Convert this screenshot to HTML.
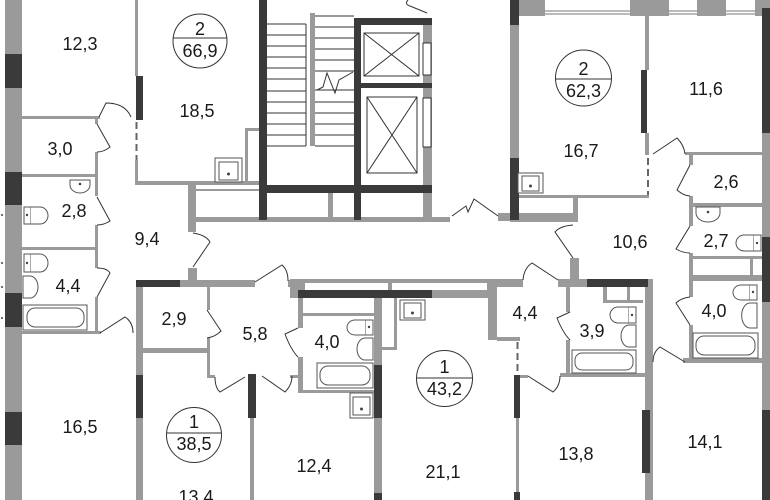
<!DOCTYPE html>
<html><head><meta charset="utf-8"><style>
html,body{margin:0;padding:0;background:#fff;}
svg{display:block;}
text{font-family:"Liberation Sans",Arial,sans-serif;fill:#1a1a1a;font-size:18px;text-anchor:middle;}
</style></head><body>
<svg width="770" height="500" viewBox="0 0 770 500" xmlns="http://www.w3.org/2000/svg">
<rect width="770" height="500" fill="#fff"/>
<g fill="#9a9a9a">
<rect x="5" y="0" width="17" height="500"/>
<rect x="135" y="0" width="3" height="76"/>
<rect x="135" y="160" width="3" height="25"/>
<rect x="135" y="181" width="127" height="4"/>
<rect x="245" y="128" width="3" height="55"/>
<rect x="245" y="128" width="15" height="3"/>
<rect x="22" y="116" width="78" height="3"/>
<rect x="95" y="117" width="3" height="7"/>
<rect x="95" y="152" width="3" height="44"/>
<rect x="95" y="225" width="3" height="43"/>
<rect x="95" y="297" width="3" height="37"/>
<rect x="22" y="174" width="76" height="3"/>
<rect x="22" y="247" width="76" height="3"/>
<rect x="22" y="331" width="79" height="3"/>
<rect x="188" y="182" width="8" height="50"/>
<rect x="188" y="268" width="9" height="19"/>
<rect x="196" y="189" width="64" height="2"/>
<rect x="188" y="217" width="262" height="5"/>
<rect x="328" y="193" width="5" height="25"/>
<rect x="498" y="213" width="12" height="8"/>
<rect x="510" y="25" width="9" height="133"/>
<rect x="510" y="213" width="68" height="9"/>
<rect x="517" y="195" width="132" height="3"/>
<rect x="573" y="195" width="5" height="27"/>
<rect x="570" y="258" width="9" height="29"/>
<rect x="180" y="280" width="75" height="7"/>
<rect x="288" y="280" width="12" height="7"/>
<rect x="290" y="279" width="200" height="19"/>
<rect x="298" y="298" width="5" height="30"/>
<rect x="298" y="357" width="5" height="36"/>
<rect x="303" y="313" width="71" height="3"/>
<rect x="298" y="390" width="76" height="3"/>
<rect x="374" y="298" width="8" height="202"/>
<rect x="394" y="298" width="3" height="52"/>
<rect x="382" y="347" width="15" height="3"/>
<rect x="136" y="287" width="7" height="213"/>
<rect x="143" y="348" width="67" height="5"/>
<rect x="207" y="287" width="3" height="23"/>
<rect x="207" y="338" width="3" height="40"/>
<rect x="207" y="375" width="8" height="3"/>
<rect x="290" y="375" width="10" height="3"/>
<rect x="250" y="418" width="4" height="82"/>
<rect x="487" y="279" width="36" height="8"/>
<rect x="558" y="279" width="29" height="8"/>
<rect x="488" y="287" width="9" height="53"/>
<rect x="497" y="337" width="23" height="4"/>
<rect x="516" y="418" width="3" height="74"/>
<rect x="514" y="375" width="14" height="3"/>
<rect x="566" y="287" width="4" height="25"/>
<rect x="566" y="340" width="4" height="37"/>
<rect x="560" y="373" width="85" height="4"/>
<rect x="603" y="287" width="4" height="16"/>
<rect x="627" y="287" width="3" height="16"/>
<rect x="603" y="300" width="40" height="3"/>
<rect x="645" y="279" width="8" height="221"/>
<rect x="645" y="15" width="4" height="55"/>
<rect x="645" y="133" width="4" height="22"/>
<rect x="685" y="152" width="77" height="3"/>
<rect x="689" y="155" width="4" height="10"/>
<rect x="689" y="196" width="4" height="11"/>
<rect x="689" y="203" width="73" height="4"/>
<rect x="689" y="207" width="4" height="19"/>
<rect x="689" y="253" width="4" height="6"/>
<rect x="689" y="256" width="73" height="3"/>
<rect x="689" y="275" width="73" height="6"/>
<rect x="750" y="259" width="3" height="16"/>
<rect x="689" y="259" width="4" height="16"/>
<rect x="689" y="281" width="4" height="16"/>
<rect x="689" y="325" width="4" height="35"/>
<rect x="683" y="358" width="79" height="5"/>
<rect x="762" y="0" width="8" height="500"/>
<rect x="517" y="0" width="245" height="16"/>
<rect x="423" y="18" width="9" height="202"/>
<rect x="310" y="13" width="5" height="133"/>
</g>
<g fill="#fff">
<rect x="305" y="283" width="83" height="7"/>
<rect x="392" y="283" width="95" height="7"/>
<rect x="545" y="0" width="85" height="16"/>
<rect x="669" y="0" width="28" height="16"/>
<rect x="726" y="0" width="29" height="16"/>
</g>
<g stroke="#777" stroke-width="1">
<line x1="545" y1="11" x2="630" y2="11"/><line x1="545" y1="14" x2="630" y2="14"/>
<line x1="669" y1="11" x2="697" y2="11"/><line x1="669" y1="14" x2="697" y2="14"/>
<line x1="726" y1="11" x2="755" y2="11"/><line x1="726" y1="14" x2="755" y2="14"/>
</g>
<g fill="#3a3a3a">
<rect x="5" y="54" width="17" height="34"/>
<rect x="5" y="172" width="17" height="33"/>
<rect x="5" y="293" width="17" height="34"/>
<rect x="5" y="412" width="17" height="33"/>
<rect x="136" y="76" width="7" height="44"/>
<rect x="259" y="0" width="8" height="220"/>
<rect x="354" y="18" width="7" height="202"/>
<rect x="354" y="18" width="78" height="7"/>
<rect x="361" y="83" width="71" height="5"/>
<rect x="265" y="185" width="167" height="8"/>
<rect x="510" y="0" width="9" height="25"/>
<rect x="510" y="158" width="9" height="62"/>
<rect x="641" y="70" width="6" height="63"/>
<rect x="136" y="280" width="44" height="7"/>
<rect x="298" y="290" width="134" height="8"/>
<rect x="374" y="365" width="8" height="53"/>
<rect x="374" y="493" width="8" height="7"/>
<rect x="136" y="375" width="7" height="43"/>
<rect x="248" y="374" width="8" height="44"/>
<rect x="514" y="375" width="6" height="43"/>
<rect x="514" y="492" width="6" height="8"/>
<rect x="587" y="279" width="61" height="8"/>
<rect x="642" y="410" width="8" height="63"/>
<rect x="762" y="8" width="8" height="125"/>
<rect x="762" y="237" width="8" height="65"/>
<rect x="762" y="410" width="8" height="90"/>
</g>
<g stroke="#666" stroke-width="2" stroke-dasharray="7,4">
<line x1="136.5" y1="122" x2="136.5" y2="160"/>
<line x1="648" y1="158" x2="648" y2="195"/>
<line x1="517.5" y1="342" x2="517.5" y2="374"/>
</g>
<g stroke="#333" stroke-width="1" fill="none">
<path d="M267,24H306M267,35H306M267,46H306M267,57H306M267,68H306M267,79H306M267,91H306M267,102H306M267,113H306M267,124H306M267,135H306M267,146H306M306,24V146"/>
<path d="M315,16H354M315,27H354M315,38H354M315,49H354M315,60H354M315,71H354M315,90H354M315,102H354M315,113H354M315,124H354M315,135H354M315,146H354"/>
<path d="M317,90 L323,87 L327,73 L335,93 L339,80 L353,72"/>
<rect x="364" y="33" width="55" height="43"/>
<path d="M364,33 L419,76 M419,33 L364,76"/>
<rect x="367" y="97" width="50" height="76"/>
<path d="M367,97 L417,173 M417,97 L367,173"/>
<rect x="423" y="43" width="8" height="32" fill="#fff"/>
<rect x="423" y="98" width="8" height="49" fill="#fff"/>
</g>
<g stroke="#555" stroke-width="1" fill="#fff">
<rect x="215" y="158" width="27" height="24"/><rect x="219" y="162" width="19" height="18"/>
<rect x="518" y="173" width="25" height="20"/><rect x="522" y="176" width="17" height="15"/>
<rect x="400" y="300" width="25" height="20"/><rect x="404" y="303" width="17" height="15"/>
<rect x="350" y="393" width="23" height="25"/><rect x="353" y="397" width="17" height="18"/>
<path d="M70,180 L90,180 L90,185 A10,8 0 0 1 70,185 Z"/>
<path d="M696,207 L720,207 L720,213 A12,9 0 0 1 696,213 Z"/>
<path d="M23,276 L30,276 A8,11 0 0 1 30,298 L23,298 Z"/>
<path d="M373,338 L365,338 A8,11 0 0 0 365,360 L373,360 Z"/>
<path d="M636,325 L629,325 A8,11 0 0 0 629,347 L636,347 Z"/>
<path d="M757,303 L750,303 A8,12 0 0 0 750,328 L757,328 Z"/>
<rect x="24" y="207" width="7" height="17"/><path d="M31,207 L40,207 A8,8.5 0 0 1 40,224 L31,224"/>
<rect x="24" y="254" width="7" height="18"/><path d="M31,254 L40,254 A8,9 0 0 1 40,272 L31,272"/>
<rect x="365" y="320" width="8" height="15"/><path d="M365,320 L355,320 A8,7.5 0 0 0 355,335 L365,335"/>
<rect x="628" y="307" width="8" height="16"/><path d="M628,307 L618,307 A8,8 0 0 0 618,323 L628,323"/>
<rect x="753" y="235" width="8" height="16"/><path d="M753,235 L744,235 A8,8 0 0 0 744,251 L753,251"/>
<rect x="749" y="285" width="8" height="15"/><path d="M749,285 L741,285 A8,7.5 0 0 0 741,300 L749,300"/>
<rect x="23" y="305" width="64" height="25"/><rect x="27" y="308" width="57" height="19" rx="8"/>
<rect x="317" y="363" width="56" height="25"/><rect x="320" y="366" width="50" height="19" rx="8"/>
<rect x="572" y="350" width="64" height="23"/><rect x="575" y="353" width="58" height="17" rx="7"/>
<rect x="693" y="333" width="65" height="25"/><rect x="696" y="336" width="59" height="19" rx="8"/>
</g>
<g fill="#444">
<circle cx="228.5" cy="174" r="1.5"/><circle cx="530.5" cy="186" r="1.5"/><circle cx="412.5" cy="313" r="1.5"/><circle cx="361.5" cy="409" r="1.5"/>
<circle cx="80" cy="184" r="1.3"/><circle cx="708" cy="212" r="1.3"/>
<circle cx="27" cy="215" r="1.2"/><circle cx="27" cy="263" r="1.2"/><circle cx="369" cy="327" r="1.2"/><circle cx="632" cy="315" r="1.2"/><circle cx="757" cy="243" r="1.2"/><circle cx="753" cy="292" r="1.2"/>
<circle cx="2" cy="215" r="1"/><circle cx="2" cy="263" r="1"/><circle cx="2" cy="287" r="1"/><circle cx="2" cy="318" r="1"/>
</g>
<g stroke="#333" stroke-width="1" fill="none">
<path d="M99,117 L106,103 Q125,103 131,117"/>
<path d="M97,124 L110,147 Q104,152 97,152"/>
<path d="M97,197 L110,221 Q104,225 97,225"/>
<path d="M97,268 Q107,268 110,273 L97,297"/>
<path d="M100,333 L125,317 Q133,322 133,333"/>
<path d="M193,233 Q206,235 210,242 L193,267"/>
<path d="M255,282 L282,265 Q288,270 288,281"/>
<path d="M207,310 L221,331 Q215,337 207,338"/>
<path d="M298,328 L285,334 Q291,350 298,357"/>
<path d="M215,377 Q215,388 220,392 L245,377"/>
<path d="M262,376 L285,392 Q292,385 292,376"/>
<path d="M408,0 Q404,4 410,6 L427,13"/>
<path d="M452,216 L466,206 L468,212 L474,199 L498,216"/>
<path d="M653,154 L677,138 Q684,145 685,154"/>
<path d="M690,165 L677,190 Q684,196 690,196"/>
<path d="M690,226 L676,249 Q683,253 690,253"/>
<path d="M690,297 Q681,298 676,303 L690,325"/>
<path d="M653,362 Q653,352 660,347 L685,362"/>
<path d="M573,225 Q560,226 555,232 L573,258"/>
<path d="M523,280 Q524,268 532,263 L558,280"/>
<path d="M570,312 L557,318 Q563,333 570,340"/>
<path d="M528,376 L553,392 Q560,386 560,376"/>
</g>
<g stroke="#333" stroke-width="1" fill="#fff">
<circle cx="200" cy="41" r="27"/>
<circle cx="583.5" cy="78" r="28"/>
<circle cx="194" cy="435" r="27.5"/>
<circle cx="444.5" cy="378.5" r="28"/>
</g>
<g stroke="#333" stroke-width="1">
<line x1="173" y1="38" x2="227" y2="38"/>
<line x1="556" y1="79" x2="611" y2="79"/>
<line x1="167" y1="433" x2="221" y2="433"/>
<line x1="417" y1="378" x2="472" y2="378"/>
</g>
<g>
<text x="200" y="35">2</text><text x="200" y="57">66,9</text>
<text x="583.5" y="75">2</text><text x="583.5" y="97">62,3</text>
<text x="194" y="428">1</text><text x="194" y="450">38,5</text>
<text x="444.5" y="373">1</text><text x="444.5" y="395">43,2</text>
<text x="80" y="50">12,3</text>
<text x="197" y="117">18,5</text>
<text x="60" y="155">3,0</text>
<text x="74" y="217">2,8</text>
<text x="147" y="245">9,4</text>
<text x="68" y="292">4,4</text>
<text x="80" y="433">16,5</text>
<text x="174" y="325">2,9</text>
<text x="255" y="340">5,8</text>
<text x="196" y="503">13,4</text>
<text x="314" y="472">12,4</text>
<text x="327" y="348">4,0</text>
<text x="443" y="478">21,1</text>
<text x="525" y="319">4,4</text>
<text x="592" y="337">3,9</text>
<text x="576" y="460">13,8</text>
<text x="705" y="448">14,1</text>
<text x="714" y="317">4,0</text>
<text x="630" y="248">10,6</text>
<text x="716" y="247">2,7</text>
<text x="726" y="188">2,6</text>
<text x="581" y="157">16,7</text>
<text x="706" y="95">11,6</text>
</g>
</svg>
</body></html>
